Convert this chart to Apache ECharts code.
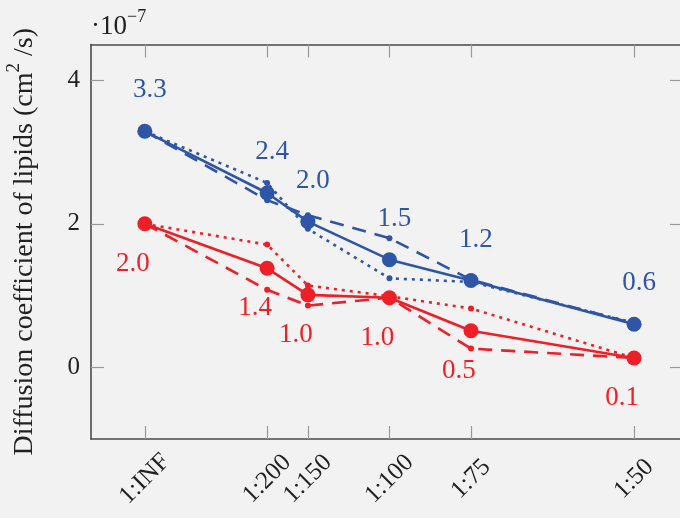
<!DOCTYPE html>
<html><head><meta charset="utf-8">
<script src="https://cdn.jsdelivr.net/npm/echarts@6/dist/echarts.min.js"></script>
<style>html,body{margin:0;padding:0;background:#f2f2f2}#c{width:680px;height:518px}</style>
</head><body><div id="c"></div>
<script>
// Lipid ratios (x = 1/ratio)
const ratios = [Infinity, 200, 150, 100, 75, 50];
const tickLabels = ['1:INF', '1:200', '1:150', '1:100', '1:75', '1:50'];
const yTicks = [0, 2, 4];
// values in units of 1e-7 cm^2/s
const blueSolid  = [3.29, 2.43, 2.03, 1.50, 1.21, 0.60];
const blueDashed = [3.29, 2.33, 2.12, 1.80, 1.22, 0.61];
const blueDotted = [3.29, 2.57, 1.93, 1.24, 1.19, 0.62];
const redSolid   = [2.00, 1.38, 1.01, 0.97, 0.51, 0.13];
const redDashed  = [2.00, 1.08, 0.86, 0.97, 0.26, 0.13];
const redDotted  = [2.00, 1.71, 1.14, 0.99, 0.82, 0.13];

const xVals = ratios.map(r => 1 / r);
const pts = arr => xVals.map((x, i) => [x, arr[i]]);

const BLUE = '#2f55a6';
const RED = '#ee1f26';
const FONT = 'Liberation Serif';
const TICK = '#9a9a9a';
const AXIS = '#4a4a4a';

function labelFor(v) {
  let best = 0, bd = Infinity;
  xVals.forEach((x, i) => { const d = Math.abs(x - v); if (d < bd) { bd = d; best = i; } });
  return tickLabels[best];
}

function lineSeries(arr, color, type, big, label) {
  const s = {
    type: 'line',
    data: pts(arr),
    color: color,
    symbol: 'circle',
    symbolSize: big ? 15 : 6,
    lineStyle: { color: color, width: 2.6, type: type, cap: 'butt' },
    itemStyle: { color: color },
    z: big ? 5 : 3,
    animation: false
  };
  if (type === 'dashed') s.lineStyle.type = [14, 9];
  if (type === 'dotted') s.lineStyle.type = [3, 5];
  if (label) {
    s.label = {
      show: true,
      position: 'inside',
      offset: label,
      color: color,
      fontFamily: FONT,
      fontSize: 27,
      formatter: p => p.value[1].toFixed(1)
    };
  }
  return s;
}

const axisLineStyle = { show: true, onZero: false, lineStyle: { color: AXIS, width: 1.6 } };
const tickStyle = { color: TICK, width: 1.2 };

const chart = echarts.init(document.getElementById('c'), null, { renderer: 'canvas' });
chart.setOption({
  backgroundColor: '#f2f2f2',
  animation: false,
  grid: { left: 91, top: 44.5, width: 592, height: 394.5, containLabel: false, outerBoundsMode: 'none' },
  xAxis: [{
    type: 'value', min: -0.0022, max: 0.022, position: 'bottom',
    axisLine: axisLineStyle,
    axisTick: { show: true, inside: true, length: 13, lineStyle: tickStyle, customValues: xVals },
    axisLabel: {
      show: true, customValues: xVals, rotate: 45, align: 'center', verticalAlign: 'middle', margin: 40,
      fontFamily: FONT, fontSize: 25, color: '#222',
      formatter: v => labelFor(v)
    },
    splitLine: { show: false }
  }, {
    type: 'value', min: -0.0022, max: 0.022, position: 'top',
    axisLine: axisLineStyle,
    axisTick: { show: true, inside: true, length: 13, lineStyle: tickStyle, customValues: xVals },
    axisLabel: { show: false },
    splitLine: { show: false }
  }],
  yAxis: [{
    type: 'value', min: -1, max: 4.5, position: 'left',
    axisLine: axisLineStyle,
    axisTick: { show: true, inside: true, length: 13, lineStyle: tickStyle, customValues: yTicks },
    axisLabel: { show: true, customValues: yTicks, margin: 11, fontFamily: FONT, fontSize: 25, color: '#222' },
    splitLine: { show: false },
    name: '{a|Diffusion coefficient of lipids (cm}{s|2}{a| /s)}',
    nameLocation: 'middle',
    nameGap: 52,
    nameTextStyle: {
      fontFamily: FONT, fontSize: 28, color: '#222',
      rich: {
        a: { fontFamily: FONT, fontSize: 28, color: '#222', lineHeight: 34, verticalAlign: 'bottom' },
        s: { fontFamily: FONT, fontSize: 19, color: '#222', lineHeight: 34, verticalAlign: 'top' }
      }
    }
  }, {
    type: 'value', min: -1, max: 4.5, position: 'right',
    axisLine: axisLineStyle,
    axisTick: { show: true, inside: true, length: 13, lineStyle: tickStyle, customValues: yTicks },
    axisLabel: { show: false },
    splitLine: { show: false }
  }],
  graphic: [{
    type: 'text', left: 91, top: 8, silent: true,
    style: {
      text: '{a|·10}{s|−7}',
      rich: {
        a: { fontFamily: FONT, fontSize: 27, fill: '#222', lineHeight: 32, verticalAlign: 'bottom' },
        s: { fontFamily: FONT, fontSize: 18, fill: '#222', lineHeight: 32, verticalAlign: 'top' }
      }
    }
  }],
  series: [
    lineSeries(blueDotted, BLUE, 'dotted', false),
    lineSeries(blueDashed, BLUE, 'dashed', false),
    lineSeries(redDotted, RED, 'dotted', false),
    lineSeries(redDashed, RED, 'dashed', false),
    lineSeries(blueSolid, BLUE, 'solid', true, [5, -41]),
    lineSeries(redSolid, RED, 'solid', true, [-12, 40])
  ]
});
</script>
</body></html>
